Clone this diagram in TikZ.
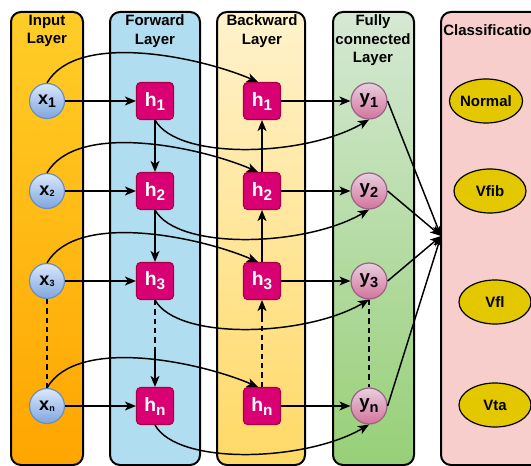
\documentclass[tikz,border=0pt]{standalone}
\usepackage{fontspec}
\setmainfont{Liberation Sans}
\usetikzlibrary{arrows.meta,shapes.geometric,calc}
\definecolor{inTop}{HTML}{FFCD28}
\definecolor{inBot}{HTML}{FFA500}
\definecolor{fwFill}{HTML}{B1DDF0}
\definecolor{bwTop}{HTML}{FFF2CC}
\definecolor{bwBot}{HTML}{FFD966}
\definecolor{fcTop}{HTML}{D5E8D4}
\definecolor{fcBot}{HTML}{97D077}
\definecolor{clFill}{HTML}{F8CECC}
\definecolor{xTop}{HTML}{DAE8FC}
\definecolor{xBot}{HTML}{7EA6E0}
\definecolor{xLine}{HTML}{6C8EBF}
\definecolor{hFill}{HTML}{D80073}
\definecolor{hLine}{HTML}{A50040}
\definecolor{yTop}{HTML}{E6D0DE}
\definecolor{yBot}{HTML}{D5739D}
\definecolor{yLine}{HTML}{996185}
\definecolor{elFill}{HTML}{E3C800}
\newcommand\labsub[5]{{\fontsize{#1}{#1}\selectfont #3}\raisebox{#5}{\fontsize{#2}{#2}\selectfont #4}}
\begin{document}
\begin{tikzpicture}[x=0.75pt,y=-0.75pt,
  container/.style={draw=black, line width=1.5pt, rounded corners=7.5pt},
  title/.style={font=\bfseries\fontsize{11.25}{14}\selectfont, align=center, inner sep=0pt, anchor=north},
  xnode/.style={circle, draw=xLine, line width=0.9pt, top color=xTop, bottom color=xBot, minimum size=26.25pt, inner sep=0pt, font=\bfseries},
  hnode/.style={rectangle, rounded corners=3pt, draw=hLine, line width=0.8pt, fill=hFill, minimum size=27.75pt, inner sep=0pt, text=white, font=\bfseries},
  ynode/.style={circle, draw=yLine, line width=0.9pt, top color=yTop, bottom color=yBot, minimum size=27pt, inner sep=0pt, font=\bfseries},
  clsnode/.style={ellipse, draw=black, line width=0.9pt, fill=elFill, minimum width=54pt, minimum height=33pt, inner sep=0pt, font=\bfseries\fontsize{11.25}{13}\selectfont},
  conn/.style={line width=1.1pt, -{Stealth[length=8.25pt,width=6.75pt,inset=2.2pt]}},
  dashline/.style={line width=1.1pt, dash pattern=on 4pt off 3pt}]
\useasboundingbox (0,0) rectangle (531,466);
\clip (0,0) rectangle (531,466);
\fill[white] (0,0) rectangle (531,466);
% containers
\path[container, top color=inTop, bottom color=inBot] (11,12) rectangle (83,465);
\path[container, fill=fwFill] (110,12) rectangle (200,465);
\path[container, top color=bwTop, bottom color=bwBot] (217,12) rectangle (305,465);
\path[container, top color=fcTop, bottom color=fcBot] (333,12) rectangle (414,465);
\path[container, fill=clFill] (441,12) rectangle (580,465);
% titles
\node[title] (tin) at (47,14.5) {Input\\Layer};
\node[title] (tfw) at (155,14.5) {Forward\\Layer};
\node[title] (tbw) at (262,14.5) {Backward\\Layer};
\node[title] (tfc) at (373,14.5) {Fully\\connected\\Layer};
\node[title, anchor=north west] (tcl) at (443,24.5) {Classification};
% input nodes
\node[xnode] (x1) at (47,101) {\labsub{13.5}{10.5}{x}{1}{-2.5pt}};
\node[xnode] (x2) at (47,191) {\labsub{13.5}{6.75}{x}{2}{-0.5pt}};
\node[xnode] (x3) at (47,281) {\labsub{13.5}{6.75}{x}{3}{-0.5pt}};
\node[xnode] (xn) at (47,406) {\labsub{13.5}{6.75}{x}{n}{-0.5pt}};
% forward nodes
\node[hnode] (f1) at (155,101) {\labsub{14.5}{11.5}{h}{1}{-3pt}};
\node[hnode] (f2) at (155,191) {\labsub{14.5}{11.5}{h}{2}{-3pt}};
\node[hnode] (f3) at (155,281) {\labsub{14.5}{11.5}{h}{3}{-3pt}};
\node[hnode] (fn) at (155,406) {\labsub{14.5}{11.5}{h}{n}{-3pt}};
% backward nodes
\node[hnode] (b1) at (262,101) {\labsub{14.5}{11.5}{h}{1}{-3pt}};
\node[hnode] (b2) at (262,191) {\labsub{14.5}{11.5}{h}{2}{-3pt}};
\node[hnode] (b3) at (262,281) {\labsub{14.5}{11.5}{h}{3}{-3pt}};
\node[hnode] (bn) at (262,406) {\labsub{14.5}{11.5}{h}{n}{-3pt}};
% output nodes
\node[ynode] (y1) at (369,101) {\labsub{14}{11}{y}{1}{-2.5pt}};
\node[ynode] (y2) at (369,191) {\labsub{14}{11}{y}{2}{-2.5pt}};
\node[ynode] (y3) at (369,281) {\labsub{14}{11}{y}{3}{-2.5pt}};
\node[ynode] (yn) at (369,406) {\labsub{14}{11}{y}{n}{-2.5pt}};
% classes
\node[clsnode] (normal) at (486,101) {Normal};
\node[clsnode] (vfib) at (490,191) {Vfib};
\node[clsnode] (vfl) at (495,302) {Vfl};
\node[clsnode] (vta) at (495,405) {Vta};
% helper coordinates
\coordinate (conv) at (441,236);
\coordinate (fd) at (155,352);
\coordinate (bd) at (262,322);
% input to forward
\draw[conn] (x1) -- (f1);
\draw[conn] (x2) -- (f2);
\draw[conn] (x3) -- (f3);
\draw[conn] (xn) -- (fn);
\draw[dashline] (x3) -- (xn);
% input to backward
\draw[conn] (x1.north) .. controls +(30,-52) and +(-58,-25) .. ($(b1.north)+(-4,0)$);
\draw[conn] (x2.north) .. controls +(30,-52) and +(-58,-25) .. ($(b2.north)+(-4,0)$);
\draw[conn] (x3.north) .. controls +(30,-52) and +(-58,-25) .. ($(b3.north)+(-4,0)$);
\draw[conn] (xn.north) .. controls +(30,-52) and +(-58,-25) .. ($(bn.north)+(-4,0)$);
% forward chain
\draw[conn] (f1) -- (f2);
\draw[conn] (f2) -- (f3);
\draw[dashline] (f3.south) -- (fd);
\draw[conn] (fd) -- (fn.north);
% backward chain
\draw[conn] (b2) -- (b1);
\draw[conn] (b3) -- (b2);
\draw[dashline] (bn.north) -- (bd);
\draw[conn] (bd) -- (b3.south);
% backward to output
\draw[conn] (b1) -- (y1);
\draw[conn] (b2) -- (y2);
\draw[conn] (b3) -- (y3);
\draw[conn] (bn) -- (yn);
\draw[dashline] (y3) -- (yn);
% forward to output
\draw[conn] (f1.south) .. controls +(23,41) and +(-63,37) .. (y1.south);
\draw[conn] (f2.south) .. controls +(23,41) and +(-63,37) .. (y2.south);
\draw[conn] (f3.south) .. controls +(23,41) and +(-63,37) .. (y3.south);
\draw[conn] (fn.south) .. controls +(23,41) and +(-63,37) .. (yn.south);
% output to classification
\draw[conn] (y1.east) -- (conv);
\draw[conn] (y2.east) -- (conv);
\draw[conn] (y3.east) -- (conv);
\draw[conn] (yn.east) -- (conv);
\end{tikzpicture}
\end{document}
